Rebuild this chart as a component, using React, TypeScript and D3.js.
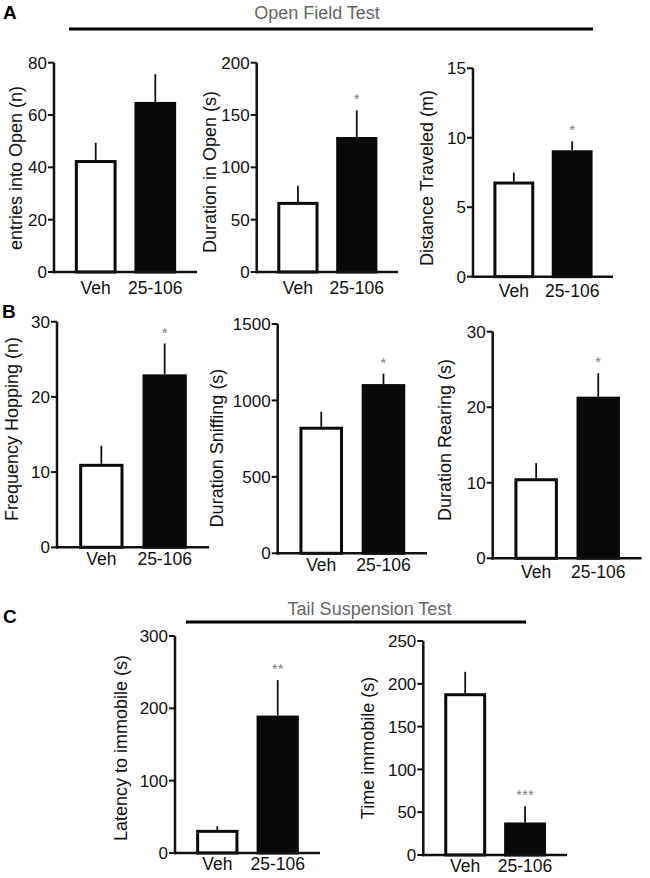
import React from "react";
import * as d3 from "d3";

// ---------- data ----------
const GROUPS = ["Veh", "25-106"];

const Y_LABELS = [
  "entries into Open (n)",
  "Duration in Open (s)",
  "Distance Traveled (m)",
  "Frequency Hopping (n)",
  "Duration Sniffing (s)",
  "Duration Rearing (s)",
  "Latency to immobile (s)",
  "Time immobile (s)",
];

const MEAN_ENTRIES = [42.8, 65.0];
const SEM_ENTRIES = [6.6, 10.6];
const MEAN_DUR_OPEN = [67, 129];
const SEM_DUR_OPEN = [15.5, 25.5];
const MEAN_DISTANCE = [6.85, 9.1];
const SEM_DISTANCE = [0.65, 0.65];
const MEAN_HOPPING = [11.1, 23.0];
const SEM_HOPPING = [2.4, 4.1];
const MEAN_SNIFFING = [828, 1107];
const SEM_SNIFFING = [98, 68];
const MEAN_REARING = [10.6, 21.4];
const SEM_REARING = [2.0, 3.1];
const MEAN_LATENCY = [32, 190];
const SEM_LATENCY = [5, 49];
const MEAN_IMMOBILE = [189, 38];
const SEM_IMMOBILE = [25, 19];

const TICKS_ENTRIES = [0, 20, 40, 60, 80];
const TICKS_DUR_OPEN = [0, 50, 100, 150, 200];
const TICKS_DISTANCE = [0, 5, 10, 15];
const TICKS_HOPPING = [0, 10, 20, 30];
const TICKS_SNIFFING = [0, 500, 1000, 1500];
const TICKS_REARING = [0, 10, 20, 30];
const TICKS_LATENCY = [0, 100, 200, 300];
const TICKS_IMMOBILE = [0, 50, 100, 150, 200, 250];

const SIG_ENTRIES = ["", ""];
const SIG_DUR_OPEN = ["", "*"];
const SIG_DISTANCE = ["", "*"];
const SIG_HOPPING = ["", "*"];
const SIG_SNIFFING = ["", "*"];
const SIG_REARING = ["", "*"];
const SIG_LATENCY = ["", "**"];
const SIG_IMMOBILE = ["", "***"];

const SECTION_TITLES = ["Open Field Test", "Tail Suspension Test"];
const PANEL_LETTERS = ["A", "B", "C"];

// ---------- layout ----------
const LAYOUT = [
  { ax: 54, ax1: 197, top: 62.7, bottom: 272, lx: 16, ly: 168, xl: 22 },
  { ax: 256.7, ax1: 398, top: 62.7, bottom: 272, lx: 210, ly: 172, xl: 22 },
  { ax: 473, ax1: 613, top: 68.3, bottom: 276.7, lx: 427, ly: 178, xl: 20 },
  { ax: 57, ax1: 209, top: 321.7, bottom: 547.3, lx: 12, ly: 429, xl: 18 },
  { ax: 277.7, ax1: 427, top: 324, bottom: 553.3, lx: 217, ly: 448, xl: 17.5 },
  { ax: 492.7, ax1: 641.7, top: 331.7, bottom: 558.3, lx: 445, ly: 440, xl: 19.5 },
  { ax: 175, ax1: 320, top: 636, bottom: 853, lx: 121, ly: 748, xl: 17 },
  { ax: 423.3, ax1: 567, top: 641, bottom: 855, lx: 368, ly: 748, xl: 16.5 },
];

const FONT = "'Liberation Sans', Arial, Helvetica, sans-serif";

const PANELS = [
  { mean: MEAN_ENTRIES, sem: SEM_ENTRIES, ticks: TICKS_ENTRIES, sig: SIG_ENTRIES },
  { mean: MEAN_DUR_OPEN, sem: SEM_DUR_OPEN, ticks: TICKS_DUR_OPEN, sig: SIG_DUR_OPEN },
  { mean: MEAN_DISTANCE, sem: SEM_DISTANCE, ticks: TICKS_DISTANCE, sig: SIG_DISTANCE },
  { mean: MEAN_HOPPING, sem: SEM_HOPPING, ticks: TICKS_HOPPING, sig: SIG_HOPPING },
  { mean: MEAN_SNIFFING, sem: SEM_SNIFFING, ticks: TICKS_SNIFFING, sig: SIG_SNIFFING },
  { mean: MEAN_REARING, sem: SEM_REARING, ticks: TICKS_REARING, sig: SIG_REARING },
  { mean: MEAN_LATENCY, sem: SEM_LATENCY, ticks: TICKS_LATENCY, sig: SIG_LATENCY },
  { mean: MEAN_IMMOBILE, sem: SEM_IMMOBILE, ticks: TICKS_IMMOBILE, sig: SIG_IMMOBILE },
].map((p, i) => ({ ...p, label: Y_LABELS[i], layout: LAYOUT[i] }));

function BarPanel({ panel }: { panel: any }) {
  const L = panel.layout;
  const ticks: number[] = panel.ticks;
  const y = d3
    .scaleLinear()
    .domain([0, ticks[ticks.length - 1]])
    .range([L.bottom, L.top]);
  const x = d3
    .scaleBand<string>()
    .domain(GROUPS)
    .range([L.ax, L.ax1])
    .paddingInner(0.3)
    .paddingOuter(0.35);
  const bw = x.bandwidth();
  const sw = 3;
  return (
    <g>
      {GROUPS.map((g, i) => {
        const m = panel.mean[i];
        const s = panel.sem[i];
        const bx = x(g) as number;
        const cx = bx + bw / 2;
        const yTop = y(m);
        const yErr = y(m + s);
        return (
          <g key={g}>
            <line x1={cx} x2={cx} y1={yTop} y2={yErr} stroke="#111" strokeWidth={1.8} />
            <rect
              x={bx + sw / 2}
              y={yTop + sw / 2}
              width={bw - sw}
              height={L.bottom - yTop - sw / 2}
              fill={i === 0 ? "#fff" : "#0a0a0a"}
              stroke="#0a0a0a"
              strokeWidth={sw}
            />
            {panel.sig[i] ? (
              <text
                x={cx}
                y={yErr - 6}
                textAnchor="middle"
                fontSize={15}
                fill="#808080"
                fontFamily={FONT}
              >
                {panel.sig[i]}
              </text>
            ) : null}
            <text
              x={cx}
              y={L.bottom + L.xl}
              textAnchor="middle"
              fontSize={17.5}
              fill="#111"
              fontFamily={FONT}
            >
              {g}
            </text>
          </g>
        );
      })}
      <line x1={L.ax} x2={L.ax} y1={L.top} y2={L.bottom + 1.25} stroke="#111" strokeWidth={2.5} />
      <line x1={L.ax - 1.25} x2={L.ax1} y1={L.bottom} y2={L.bottom} stroke="#111" strokeWidth={2.5} />
      {ticks.map((t) => (
        <g key={t}>
          <line x1={L.ax - 6} x2={L.ax} y1={y(t)} y2={y(t)} stroke="#111" strokeWidth={2} />
          <text
            x={L.ax - 7}
            y={y(t)}
            dy="0.36em"
            textAnchor="end"
            fontSize={17}
            fill="#111"
            fontFamily={FONT}
          >
            {t}
          </text>
        </g>
      ))}
      <text
        transform={`translate(${L.lx},${L.ly}) rotate(-90)`}
        textAnchor="middle"
        dominantBaseline="central"
        fontSize={18}
        fill="#111"
        fontFamily={FONT}
      >
        {panel.label}
      </text>
    </g>
  );
}

export default function App() {
  return (
    <svg
      width={650}
      height={878}
      viewBox="0 0 650 878"
      style={{ position: "absolute", left: 0, top: 0, background: "#fff" }}
    >
      <rect x={0} y={0} width={650} height={878} fill="#fff" />
      {/* panel letters */}
      <text x={3} y={19} fontSize={19} fontWeight="bold" fontFamily={FONT} fill="#000">
        {PANEL_LETTERS[0]}
      </text>
      <text x={2} y={318} fontSize={19} fontWeight="bold" fontFamily={FONT} fill="#000">
        {PANEL_LETTERS[1]}
      </text>
      <text x={3} y={623} fontSize={19} fontWeight="bold" fontFamily={FONT} fill="#000">
        {PANEL_LETTERS[2]}
      </text>
      {/* section titles */}
      <text x={317} y={19} textAnchor="middle" fontSize={18} fill="#666" fontFamily={FONT}>
        {SECTION_TITLES[0]}
      </text>
      <line x1={69} x2={593} y1={29} y2={29} stroke="#000" strokeWidth={3} />
      <text x={369.5} y={615} textAnchor="middle" fontSize={18} fill="#666" fontFamily={FONT}>
        {SECTION_TITLES[1]}
      </text>
      <line x1={186} x2={526} y1={622} y2={622} stroke="#000" strokeWidth={3} />
      {PANELS.map((p, i) => (
        <BarPanel key={i} panel={p} />
      ))}
    </svg>
  );
}
